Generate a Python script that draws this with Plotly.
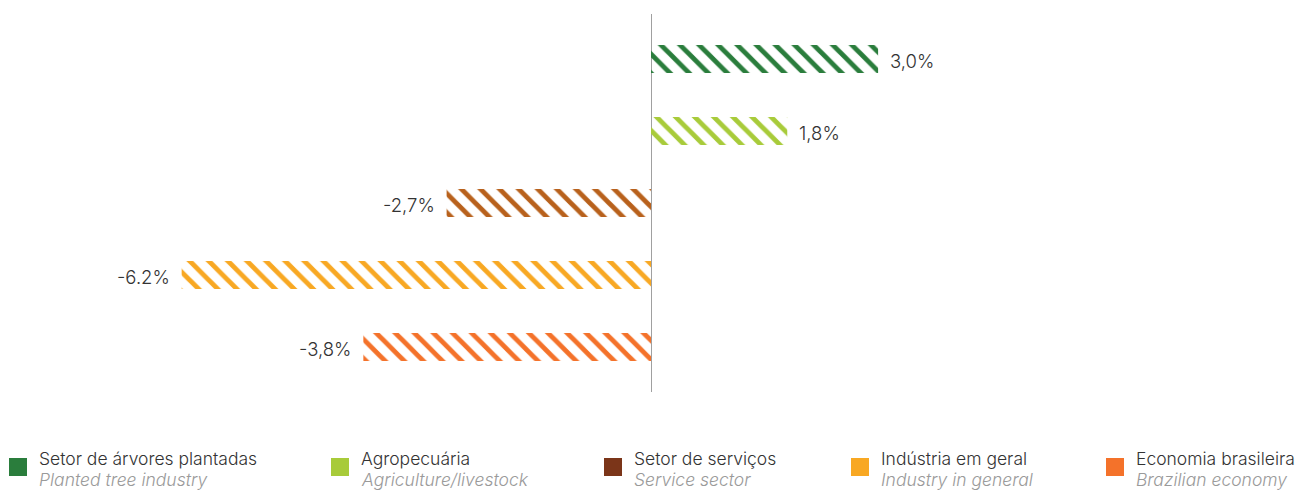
import plotly.graph_objects as go

# Sector growth, top to bottom
sectors = ["Setor de árvores plantadas", "Agropecuária", "Setor de serviços",
           "Indústria em geral", "Economia brasileira"]
sectors_en = ["Planted tree industry", "Agriculture/livestock", "Service sector",
              "Industry in general", "Brazilian economy"]
growth = [3.0, 1.8, -2.7, -6.2, -3.8]
value_labels = ["3,0%", "1,8%", "-2,7%", "-6.2%", "-3,8%"]

bar_colors = ["#2a7d3c", "#a8cb3a", "#b8611c", "#f8a823", "#f4722a"]
legend_colors = ["#2a7d3c", "#a8cb3a", "#7b3519", "#f8a823", "#f4722a"]

FONT = "Inter"
W, H = 1295, 490
TOP, BOT = 14, 98
PH = H - TOP - BOT


def py(pix):
    """Pixel row (from top) to paper y."""
    return (H - BOT - pix) / PH


fig = go.Figure()
fig.add_trace(go.Bar(
    y=list(range(len(sectors))),
    x=growth,
    orientation="h",
    width=0.39,
    marker=dict(
        color=bar_colors,
        line=dict(width=0),
        pattern=dict(shape="\\", size=13.5, solidity=0.36,
                     fillmode="replace", fgcolor=bar_colors,
                     bgcolor="rgba(0,0,0,0)"),
    ),
    hoverinfo="skip",
    showlegend=False,
))

# Value labels beside each bar end
for i, (v, lab) in enumerate(zip(growth, value_labels)):
    fig.add_annotation(
        x=v, y=i, xref="x", yref="y", text=lab, showarrow=False,
        xanchor="left" if v >= 0 else "right",
        xshift=10 if v >= 0 else -10, yshift=-2,
        font=dict(family=FONT, size=18.5, color="#333333", weight=300),
    )

# Legend row: coloured square + two-line caption
leg_sq_x = [9, 331, 604, 851, 1106]
for x0, name, en, col in zip(leg_sq_x, sectors, sectors_en, legend_colors):
    fig.add_shape(type="rect", xref="paper", yref="paper",
                  x0=x0 / W, x1=(x0 + 18) / W, y0=py(476), y1=py(458),
                  fillcolor=col, line=dict(width=0))
    fig.add_annotation(xref="paper", yref="paper", x=(x0 + 28) / W,
                       y=py(458), xanchor="left", yanchor="middle",
                       text=name, showarrow=False,
                       font=dict(family=FONT, size=17.5, color="#333333", weight=300))
    fig.add_annotation(xref="paper", yref="paper", x=(x0 + 28) / W,
                       y=py(479), xanchor="left", yanchor="middle",
                       text="<i>" + en + "</i>", showarrow=False,
                       font=dict(family=FONT, size=17.5, color="#9a9a9a", weight=300))

fig.update_layout(
    width=W, height=H,
    margin=dict(l=0, r=0, t=TOP, b=BOT),
    paper_bgcolor="white", plot_bgcolor="white",
    xaxis=dict(range=[-651 / 75.7, (W - 651) / 75.7], showgrid=False,
               showticklabels=False, zeroline=True, zerolinecolor="#a0a0a0",
               zerolinewidth=1, fixedrange=True),
    yaxis=dict(range=[4.625, -0.625], showgrid=False, showticklabels=False,
               zeroline=False, fixedrange=True),
    showlegend=False,
)

fig.write_html("out.html")
